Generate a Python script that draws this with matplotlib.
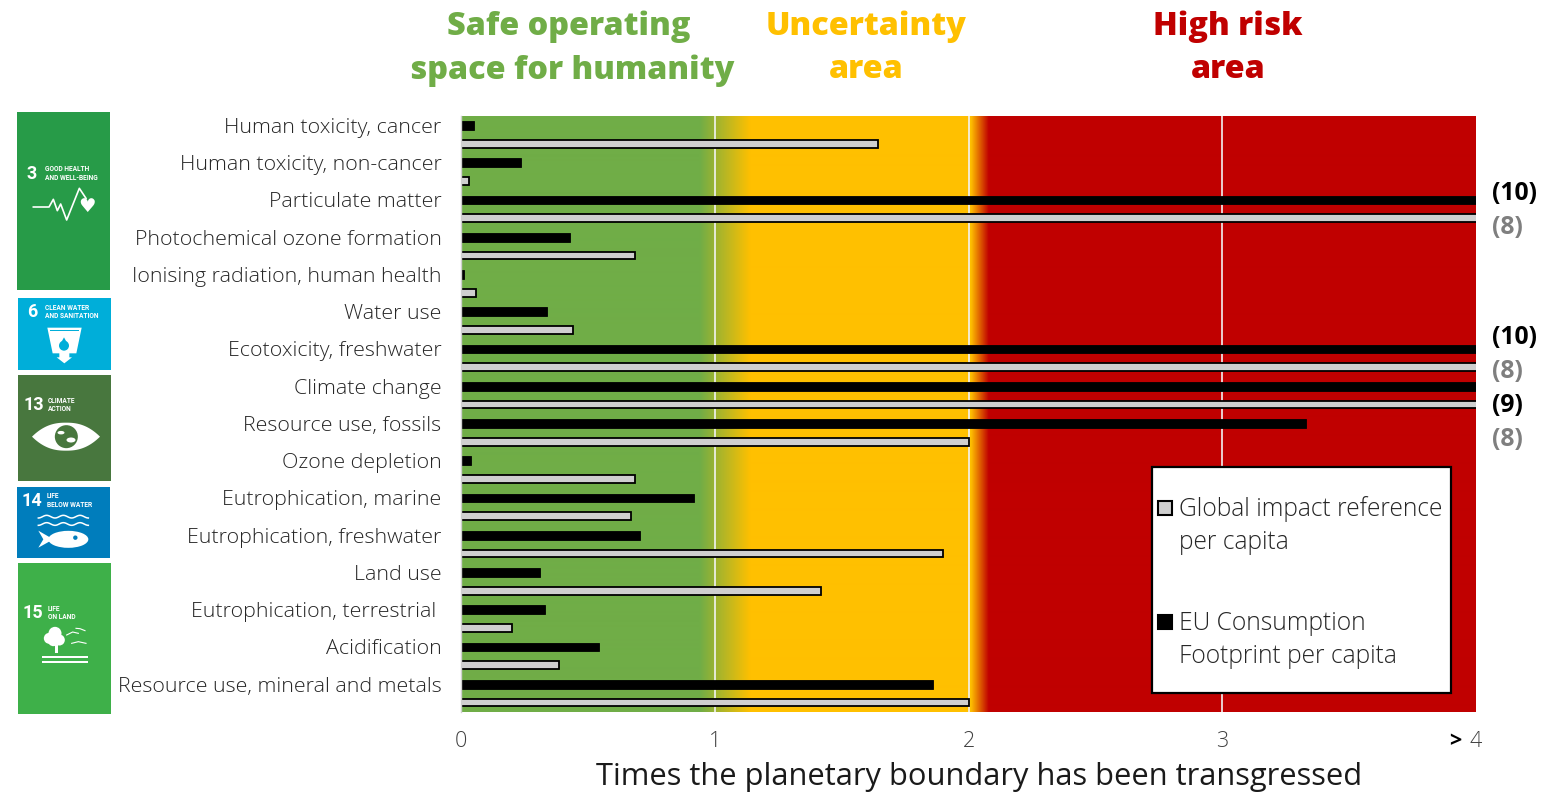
import numpy as np
import matplotlib
matplotlib.use("Agg")
import matplotlib.pyplot as plt
from matplotlib.colors import LinearSegmentedColormap
from matplotlib.patches import Rectangle, Polygon, Circle, Ellipse
from matplotlib.legend_handler import HandlerPatch

W, H = 1561, 795
categories = ["Human toxicity, cancer", "Human toxicity, non-cancer", "Particulate matter",
              "Photochemical ozone formation", "Ionising radiation, human health", "Water use",
              "Ecotoxicity, freshwater", "Climate change", "Resource use, fossils", "Ozone depletion",
              "Eutrophication, marine", "Eutrophication, freshwater", "Land use",
              "Eutrophication, terrestrial ", "Acidification", "Resource use, mineral and metals"]
eu_footprint = [0.05, 0.235, 10, 0.43, 0.01, 0.34, 10, 9, 3.33, 0.04, 0.92, 0.705, 0.31, 0.33, 0.545, 1.86]
global_ref = [1.645, 0.03, 8, 0.685, 0.06, 0.44, 8, 8, 2.0, 0.685, 0.67, 1.9, 1.42, 0.2, 0.385, 2.0]
xticks = [0, 1, 2, 3, 4]
xticklabels = ["0", "1", "2", "3", "4"]
xmax = 4

SANS = "Open Sans"
GREEN, YELLOW, RED = "#70AD47", "#FFC000", "#C00000"

fig = plt.figure(figsize=(W / 100, H / 100), dpi=100, facecolor="white")
def fx(p): return p / W
def fy(p): return 1 - p / H

ax = fig.add_axes([fx(461), fy(712), fx(1476) - fx(461), (712 - 116) / H])
cmap = LinearSegmentedColormap.from_list("zones", [
    (0, GREEN), (0.94 / xmax, GREEN), (1.14 / xmax, YELLOW),
    (2.01 / xmax, YELLOW), (2.08 / xmax, RED), (1, RED)], N=4096)
ax.imshow(np.linspace(0, 1, 1015)[None, :], cmap=cmap, vmin=0, vmax=1, aspect="auto",
          extent=[0, xmax, 15.5, -0.5], zorder=0, interpolation="bilinear")
ax.set_xlim(0, xmax)
ax.set_ylim(15.5, -0.5)
for t in xticks[1:-1]:
    ax.axvline(t, color="#F2F2F2", lw=1.2, zorder=1)

y = np.arange(len(categories))
off = 0.245
ax.barh(y - off, eu_footprint, height=0.24, color="black", edgecolor="black", linewidth=0.6, zorder=2)
ax.barh(y + off, global_ref, height=0.21, color="#CFCFCF", edgecolor="black", linewidth=1.3, zorder=2)

ax.set_yticks(y - off)
ax.set_yticklabels(categories, fontsize=15.4, family=SANS, fontweight="light", color="#262626")
ax.set_xticks(xticks)
ax.set_xticklabels(xticklabels, fontsize=15.5, family=SANS, fontweight="light", color="#404040")
ax.tick_params(axis="y", length=0, pad=14)
ax.tick_params(axis="x", length=0, pad=14)
for s in ax.spines.values():
    s.set_visible(False)
ax.spines["left"].set_visible(True)
ax.spines["left"].set_color("#D0D0D0")
ax.spines["left"].set_linewidth(1)

fig.text(fx(1455), fy(742), ">", fontsize=15.5, fontweight="bold", family=SANS, ha="center", va="center", color="black")
fig.text(fx(979), fy(777), "Times the planetary boundary has been transgressed", fontsize=22.2,
         family=SANS, ha="center", va="center", color="#1a1a1a")

for txt, xc, col in [("Safe operating\nspace for humanity", 569, GREEN), ("Uncertainty\narea", 866, YELLOW),
                     ("High risk\narea", 1228, RED)]:
    a, b = txt.split("\n")
    x_second = 572 if xc == 569 else xc
    fig.text(fx(xc), fy(26.5), a, fontsize=23.3, fontweight=800, family=SANS, color=col, ha="center", va="center")
    fig.text(fx(x_second), fy(70.5), b, fontsize=23.3, fontweight=800, family=SANS, color=col, ha="center", va="center")

# Out-of-range values, written beside the clipped bars
label_y = {2: (193, 227), 6: (337, 371), 7: (405, 439)}
for i, (y1, y2) in label_y.items():
    fig.text(fx(1492), fy(y1), f"({eu_footprint[i]})", fontsize=17.8, fontweight="bold", family=SANS, color="black", va="center")
    fig.text(fx(1492), fy(y2), f"({global_ref[i]})", fontsize=17.8, fontweight="bold", family=SANS, color="#7F7F7F", va="center")

# Legend
def first_line_handle(legend, orig_handle, xdescent, ydescent, width, height, fontsize):
    return Rectangle((-xdescent - 0.853 * fontsize, -ydescent + 0.69 * fontsize), 0.58 * fontsize, 0.58 * fontsize)
hmap = HandlerPatch(patch_func=first_line_handle)
gl = Rectangle((0, 0), 1, 1, facecolor="#CFCFCF", edgecolor="black", linewidth=1.5)
bl = Rectangle((0, 0), 1, 1, facecolor="black", edgecolor="black", linewidth=1.5)
leg = ax.legend([gl, bl], ["Global impact reference\nper capita", "EU Consumption\nFootprint per capita"],
                handler_map={gl: hmap, bl: hmap}, loc="lower left",
                bbox_to_anchor=(fx(1152), fy(693), (1451 - 1152) / W, (693 - 468) / H),
                bbox_transform=fig.transFigure, mode="expand", borderaxespad=0, fancybox=False,
                framealpha=1, edgecolor="black", handlelength=0, handleheight=0.62, handletextpad=0,
                borderpad=1.08, labelspacing=2.26,
                prop={"family": SANS, "weight": "light", "size": 17.7})
leg.get_frame().set_linewidth(1.6)
leg.set_zorder(5)
for t in leg.get_texts():
    t.set_color("#262626")
    t.set_linespacing(1.42)
    t.set_y(-2.2)

# SDG icons, in pixel coordinates on a full-figure overlay
ic = fig.add_axes([0, 0, 1, 1], facecolor="none", zorder=3)
ic.set_xlim(0, W); ic.set_ylim(H, 0); ic.axis("off")
SDG = [("3", "GOOD HEALTH\nAND WELL-BEING", 17, 112, 110, 290, "#279B48", 32, 174, 45, 173.5),
       ("6", "CLEAN WATER\nAND SANITATION", 18, 298, 111, 370, "#00AED9", 32, 312, 45, 312),
       ("13", "CLIMATE\nACTION", 18, 375, 111, 481, "#48773E", 34, 405, 48, 405),
       ("14", "LIFE\nBELOW WATER", 17, 487, 110, 558, "#007DBC", 32, 501, 47, 500.5),
       ("15", "LIFE\nON LAND", 18, 563, 111, 714, "#3EB049", 33, 613, 48, 613)]
for num, name, x0, y0, x1, y1, c, nx, ny, tx, ty in SDG:
    ic.add_patch(Rectangle((x0, y0), x1 - x0, y1 - y0, facecolor=c, edgecolor="none"))
    ic.text(nx, ny, num, color="white", fontsize=13, fontweight="bold", family="Roboto", ha="center", va="center")
    ic.text(tx, ty, name, color="white", fontsize=4.8, fontweight="bold", family="Roboto", ha="left", va="center", linespacing=1.1)

def z(x, yy, oy): return (x / 3, oy + yy / 3)
white = dict(facecolor="white", edgecolor="none")
# 3: heartbeat
pts = [(100, 321), (147, 321), (160, 298), (172, 332), (182, 312), (200, 360), (238, 265), (258, 295)]
ic.plot(*zip(*[z(a, b, 100) for a, b in pts]), color="white", lw=1.2)
ic.text(*z(261, 318, 100), "♥", color="white", fontsize=14, family="DejaVu Sans", ha="center", va="center")
# 6: glass and drop
ic.add_patch(Polygon([z(a, b, 100) for a, b in [(142, 683), (245, 683), (229, 760), (208, 760), (208, 772), (216, 772), (193, 790), (170, 772), (178, 772), (178, 760), (158, 760)]], **white))
ic.add_patch(Rectangle(z(150, 689, 100), 88 / 3, 5 / 3, facecolor="#00AED9"))
ic.add_patch(Circle(z(192, 737, 100), 5, facecolor="#00AED9"))
ic.add_patch(Polygon([z(a, b, 100) for a, b in [(192, 712), (181, 732), (203, 732)]], facecolor="#00AED9"))
# 13: eye and globe
t = np.linspace(-1, 1, 60)
upper = [z(198 + 102 * v, 200 - 42 * (1 - abs(v) ** 2.4), 370) for v in t]
lower = [z(198 + 102 * v, 200 + 42 * (1 - abs(v) ** 2.4), 370) for v in t[::-1]]
ic.add_patch(Polygon(upper + lower, **white))
ic.add_patch(Circle(z(199, 200, 370), 11.5, facecolor="#48773E"))
ic.add_patch(Ellipse(z(183, 188, 370), 7, 3.5, facecolor="white"))
ic.add_patch(Ellipse(z(213, 210, 370), 9, 5, facecolor="white"))
# 14: waves and fish
v = np.linspace(0, 1, 60)
for wy in (440, 462):
    ic.plot(*zip(*[z(115 + 150 * q, wy + 4 * np.cos(q * 3 * 2 * np.pi), 370) for q in v]), color="white", lw=1.1)
ic.add_patch(Ellipse(z(205, 508, 370), 40, 17, **white))
ic.add_patch(Polygon([z(a, b, 370) for a, b in [(115, 482), (160, 508), (115, 533), (130, 508)]], **white))
ic.add_patch(Circle(z(226, 503, 370), 2.2, facecolor="#007DBC"))
# 15: tree, ground, birds
for cx, cy, r in [(148, 805, 5.5), (165, 790, 6.5), (178, 810, 5.5), (160, 812, 5.5)]:
    ic.add_patch(Circle(z(cx, cy, 370), r, **white))
ic.add_patch(Rectangle(z(164, 825, 370), 3, 8, **white))
for wy in (860, 875):
    ic.add_patch(Rectangle(z(125, wy - 3, 370), 46, 2, **white))
for pts in ([(200, 795), (218, 786), (235, 790)], [(228, 775), (240, 776), (255, 782)], [(215, 820), (235, 815), (258, 820)]):
    ic.plot(*zip(*[z(a, b, 370) for a, b in pts]), color="white", lw=0.8)

fig.savefig("out.png", dpi=100, facecolor="white")
